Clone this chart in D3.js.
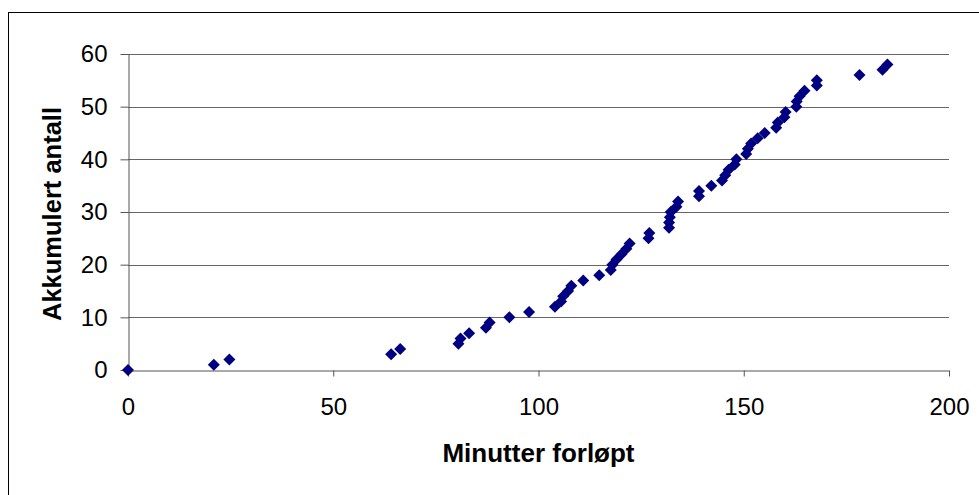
<!DOCTYPE html>
<html>
<head>
<meta charset="utf-8">
<script src="https://cdn.jsdelivr.net/npm/d3@7"></script>
<style>
  html, body { margin: 0; padding: 0; background: #fff; }
  svg text { font-family: "Liberation Sans", Arial, sans-serif; fill: #000; }
</style>
</head>
<body>
<div id="vis"></div>
<script>
// minutes elapsed for each recorded event
const minutes = [
  0, 20.9, 24.7, 64.1, 66.3, 80.5, 81, 83.1, 87.2, 88.1,
  92.9, 97.7, 104, 105.5, 106, 107.2, 108, 110.9, 114.8, 117.6,
  118, 119, 120.2, 121.4, 122.2, 126.8, 127, 131.8, 131.8, 132,
  132.2, 133.6, 134, 139.1, 139.1, 142.1, 144.7, 145.5, 146.3, 147.8,
  148.2, 150.6, 151, 151.8, 153.4, 155.1, 157.9, 158.3, 159.9, 160.2,
  162.8, 162.9, 163.6, 164.8, 167.8, 167.8, 178.2, 183.8, 185
];
// accumulated count
const counts = [
  0, 1, 2, 3, 4, 5, 6, 7, 8, 9,
  10, 11, 12, 13, 14, 15, 16, 17, 18, 19,
  20, 21, 22, 23, 24, 25, 26, 27, 28, 29,
  30, 31, 32, 33, 34, 35, 36, 37, 38, 39,
  40, 41, 42, 43, 44, 45, 46, 47, 48, 49,
  50, 51, 52, 53, 54, 55, 56, 57, 58
];
const xTicks = [0, 50, 100, 150, 200];
const yTicks = [0, 10, 20, 30, 40, 50, 60];

const width = 979, height = 495;
const plot = {left: 128, right: 949, top: 54, bottom: 370};

const svg = d3.select("#vis").append("svg")
  .attr("width", width)
  .attr("height", height);

// chart border (runs off right/bottom edge like the original)
svg.append("rect")
  .attr("x", 8.5).attr("y", 12.5)
  .attr("width", width).attr("height", height)
  .attr("fill", "#fff")
  .attr("stroke", "#000")
  .attr("stroke-width", 1);

const x = d3.scaleLinear().domain([0, 200]).range([plot.left, plot.right]);
const y = d3.scaleLinear().domain([0, 60]).range([plot.bottom, plot.top]);

// gridlines
svg.append("g")
  .selectAll("line")
  .data(yTicks.filter(d => d > 0))
  .join("line")
  .attr("x1", plot.left).attr("x2", plot.right)
  .attr("y1", d => Math.round(y(d)) + 0.5)
  .attr("y2", d => Math.round(y(d)) + 0.5)
  .attr("stroke", "#666")
  .attr("stroke-width", 1);

// axes
const xAxis = svg.append("g")
  .attr("transform", `translate(0,${plot.bottom + 0.5})`)
  .call(d3.axisBottom(x).tickValues(xTicks).tickSize(6).tickPadding(21).tickSizeOuter(0));

const yAxis = svg.append("g")
  .attr("transform", `translate(${plot.left + 0.5},0)`)
  .call(d3.axisLeft(y).tickValues(yTicks).tickSize(8).tickPadding(13).tickSizeOuter(0));

[xAxis, yAxis].forEach(a => {
  a.select(".domain").attr("stroke", "#555");
  a.selectAll(".tick line").attr("stroke", "#555");
  a.selectAll("text")
    .style("font-family", '"Liberation Sans", Arial, sans-serif')
    .style("font-size", "24px")
    .attr("fill", "#000");
});

// points
const pts = minutes.map((m, i) => ({m, c: counts[i]}));
svg.append("g")
  .selectAll("path")
  .data(pts)
  .join("path")
  .attr("d", d3.symbol(d3.symbolSquare, 72))
  .attr("transform", d => `translate(${x(d.m)},${y(d.c)}) rotate(45)`)
  .attr("fill", "#000080");

// axis titles
svg.append("text")
  .attr("x", (plot.left + plot.right) / 2)
  .attr("y", 462)
  .attr("text-anchor", "middle")
  .style("font-size", "26px")
  .style("font-weight", "bold")
  .text("Minutter forløpt");

svg.append("text")
  .attr("transform", `translate(61,${(plot.top + plot.bottom) / 2 + 2}) rotate(-90)`)
  .attr("text-anchor", "middle")
  .style("font-size", "25.5px")
  .style("font-weight", "bold")
  .text("Akkumulert antall");
</script>
</body>
</html>
